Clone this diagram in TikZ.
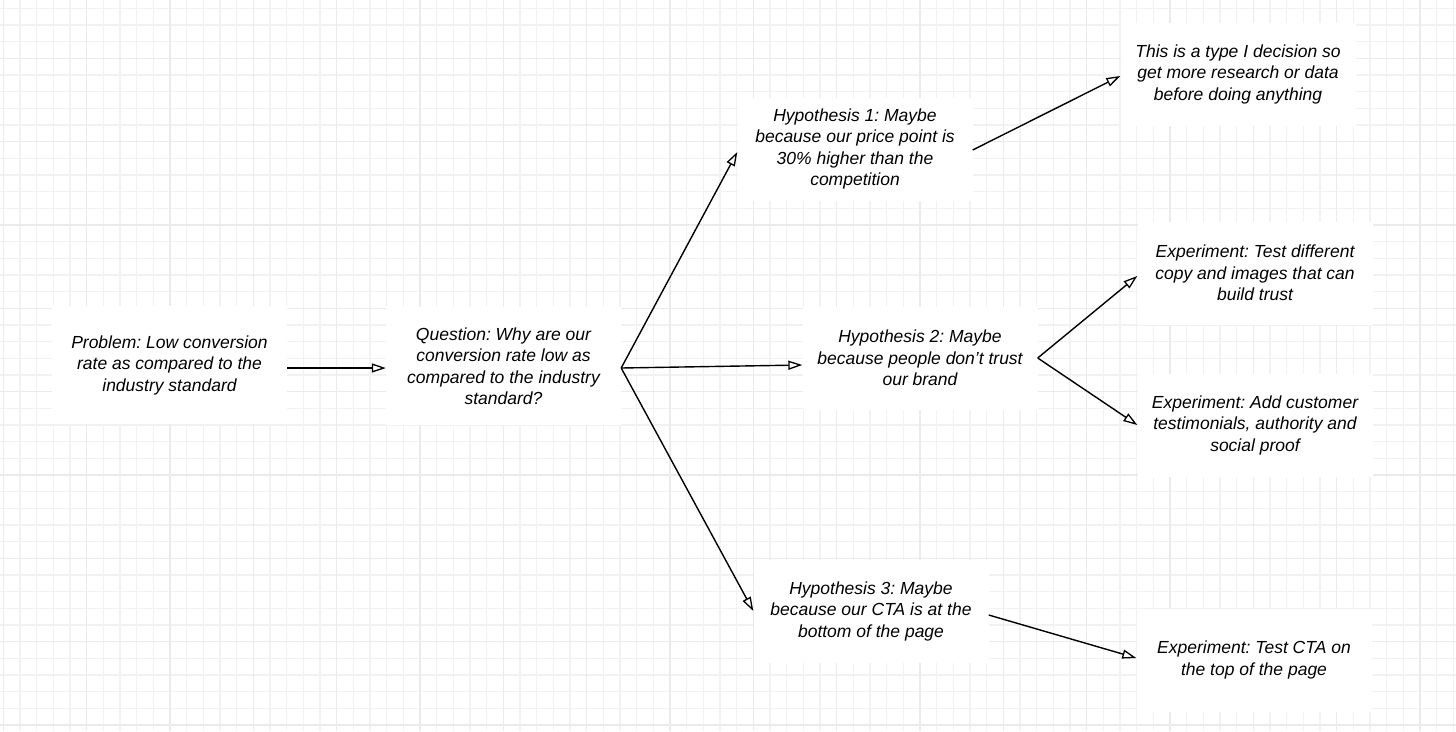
\documentclass[tikz,border=0pt]{standalone}
\usepackage{fontspec}
\setmainfont{Liberation Sans}
\frenchspacing
\usetikzlibrary{arrows.meta}
\tikzset{
  minorgrid/.style={draw=black!5, line width=1.2pt},
  majorgrid/.style={draw=black!8, line width=1.5pt},
  card/.style={fill=white, align=center, minimum width=235pt, minimum height=103pt, inner sep=0pt,
    font=\fontsize{17.5}{21.5}\selectfont\itshape},
  link/.style={line width=1.4pt, -{Triangle[open, length=14pt, width=9pt, line width=1.3pt]}}
}
\begin{document}
\begin{tikzpicture}[x=1pt, y=-1pt]
\useasboundingbox (0,0) rectangle (1456,731);
\fill[white] (0,0) rectangle (1456,731);
% grid
\foreach \i in {0,...,87} {
  \draw[minorgrid] ({3.3+16.667*\i},0) -- ({3.3+16.667*\i},731);
}
\foreach \i in {0,...,43} {
  \draw[minorgrid] (0,{8.3+16.667*\i}) -- (1456,{8.3+16.667*\i});
}
\foreach \i in {0,...,17} {
  \draw[majorgrid] ({3.3+83.333*\i},0) -- ({3.3+83.333*\i},731);
}
\foreach \i in {0,...,8} {
  \draw[majorgrid] (0,{58.3+83.333*\i}) -- (1456,{58.3+83.333*\i});
}
% nodes
\node[card, minimum height=118pt] (p) at (169.5,365) {Problem: Low conversion\\rate as compared to the\\industry standard};
\node[card, minimum height=118pt] (q) at (503.5,366) {Question: Why are our\\conversion rate low as\\compared to the industry\\standard?};
\node[card] (h1) at (855,149) {Hypothesis 1: Maybe\\because our price point is\\30\% higher than the\\competition};
\node[card] (t) at (1238,74) {This is a type I decision so\\get more research or data\\before doing anything};
\node[card] (h2) at (920,358) {Hypothesis 2: Maybe\\because people don’t trust\\our brand};
\node[card] (e1) at (1255,273) {Experiment: Test different\\copy and images that can\\build trust};
\node[card] (e2) at (1255,425) {Experiment: Add customer\\testimonials, authority and\\social proof};
\node[card] (h3) at (871,611) {Hypothesis 3: Maybe\\because our CTA is at the\\bottom of the page};
\node[card] (e3) at (1254,660) {Experiment: Test CTA on\\the top of the page};
% connectors
\draw[link] ([yshift=-3pt]p.east) -- ([yshift=-2pt]q.west);
\draw[link] ([yshift=-2pt]q.east) -- ([yshift=-3pt]h1.west);
\draw[link] ([yshift=-2pt]q.east) -- ([yshift=-7pt]h2.west);
\draw[link] ([yshift=-2pt]q.east) -- (h3.west);
\draw[link] ([yshift=-1pt]h1.east) -- ([yshift=-2pt]t.west);
\draw[link] (h2.east) -- ([yshift=-3pt]e1.west);
\draw[link] (h2.east) -- (e2.west);
\draw[link] ([yshift=-4pt]h3.east) -- ([yshift=2pt]e3.west);
\end{tikzpicture}
\end{document}
